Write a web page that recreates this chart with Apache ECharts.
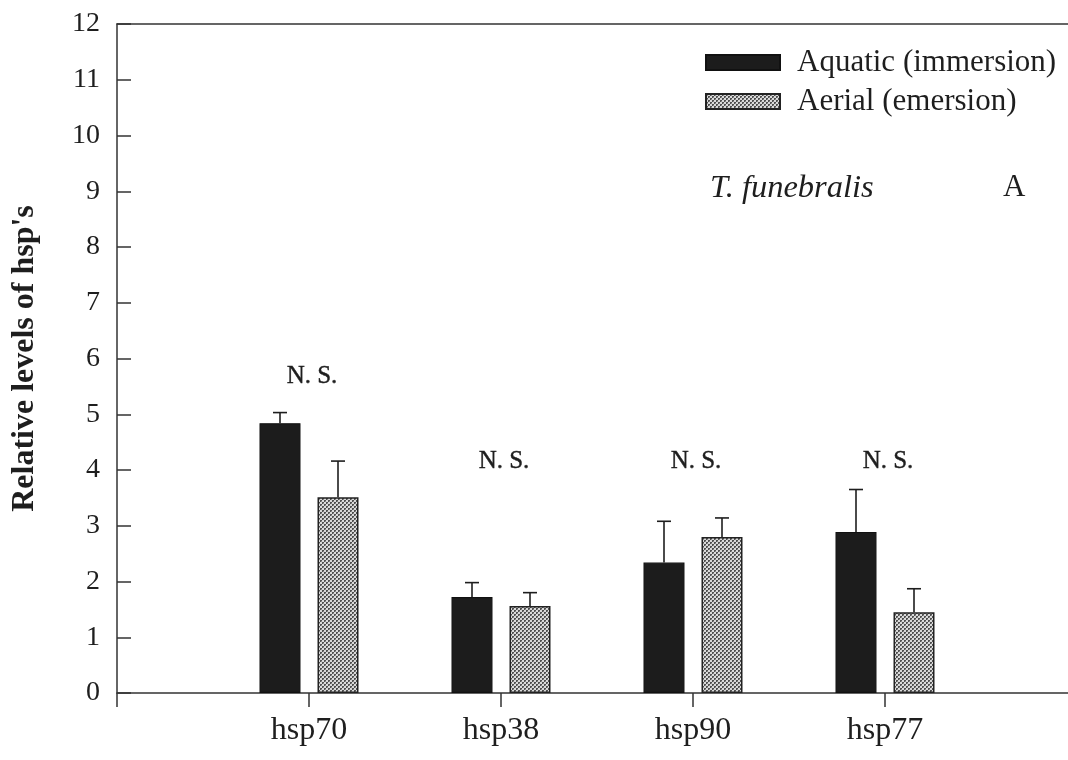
<!DOCTYPE html>
<html>
<head>
<meta charset="utf-8">
<script src="https://cdn.jsdelivr.net/npm/echarts@6/dist/echarts.min.js"></script>
<style>html,body{margin:0;padding:0;background:#fff;}#c{width:1068px;height:760px;}</style>
</head>
<body>
<div id="c"></div>
<script>
const categories = ['hsp70', 'hsp38', 'hsp90', 'hsp77'];
const aquatic = [4.84, 1.72, 2.34, 2.89];
const aquaticErr = [0.19, 0.26, 0.74, 0.76];
const aerial = [3.51, 1.56, 2.80, 1.45];
const aerialErr = [0.65, 0.24, 0.34, 0.42];
const nsText = ['N. S.', 'N. S.', 'N. S.', 'N. S.'];
const nsLevel = [5.67, 4.16, 4.16, 4.16];
const yTicks = [0, 12, 1];

const FONT = '"Liberation Serif", "Times New Roman", serif';
const INK = '#1e1e1e';

// dotted fill for aerial bars
const pat = document.createElement('canvas');
pat.width = 4; pat.height = 4;
const pc = pat.getContext('2d');
pc.fillStyle = '#d9d9d9'; pc.fillRect(0, 0, 4, 4);
pc.fillStyle = '#505050';
pc.fillRect(0, 0, 2, 2); pc.fillRect(2, 2, 2, 2);
pc.fillStyle = '#8e8e8e';
pc.fillRect(1, 1, 1, 1); pc.fillRect(3, 3, 1, 1);

const xs = categories.map((c, i) => i + 1);
const BW = 41, GAP = 17, OFF = (BW + GAP) / 2;
const GRID_LEFT = 117, UNIT_PX = 192;
const X_MAX = (1068 - GRID_LEFT) / UNIT_PX;

function errSeries(vals, errs, dx) {
  return {
    type: 'custom', z: 5, silent: true,
    data: xs.map((x, i) => [x, vals[i], errs[i]]),
    renderItem: function (params, api) {
      const x = api.value(0), y = api.value(1), e = api.value(2);
      const p0 = api.coord([x, y]);
      const p1 = api.coord([x, y + e]);
      const cx = p0[0] + dx;
      const st = { stroke: INK, lineWidth: 1.6 };
      return {
        type: 'group',
        children: [
          { type: 'line', shape: { x1: cx, y1: p0[1], x2: cx, y2: p1[1] }, style: st },
          { type: 'line', shape: { x1: cx - 7, y1: p1[1], x2: cx + 7, y2: p1[1] }, style: st }
        ]
      };
    }
  };
}

const axisLineStyle = { color: '#333', width: 1.5 };

const chart = echarts.init(document.getElementById('c'), null, { renderer: 'canvas' });
chart.setOption({
  backgroundColor: '#ffffff',
  animation: false,
  textStyle: { fontFamily: FONT, color: INK },
  grid: { left: GRID_LEFT, top: 24, right: 0, bottom: 67 },
  legend: {
    orient: 'vertical',
    left: 700, top: 42,
    itemWidth: 74, itemHeight: 15, itemGap: 8,
    icon: 'rect',
    textStyle: { fontFamily: FONT, fontSize: 31, color: INK, padding: [0, 0, 0, 12] },
    data: ['Aquatic (immersion)', 'Aerial (emersion)']
  },
  xAxis: [{
    type: 'value', min: 0, max: X_MAX, interval: 1,
    splitLine: { show: false },
    axisLine: { lineStyle: axisLineStyle },
    axisTick: { inside: false, length: 14, lineStyle: axisLineStyle },
    axisLabel: { margin: 22, fontFamily: FONT, fontSize: 32, color: INK, showMaxLabel: false,
      formatter: v => categories[Math.round(v) - 1] && Math.abs(v - Math.round(v)) < 1e-6 ? categories[Math.round(v) - 1] : '' }
  }, {
    type: 'value', position: 'top', min: 0, max: X_MAX,
    splitLine: { show: false },
    axisLine: { show: true, lineStyle: axisLineStyle },
    axisTick: { show: false }, axisLabel: { show: false }
  }],
  yAxis: {
    type: 'value', min: yTicks[0], max: yTicks[1], interval: yTicks[2],
    name: "Relative levels of hsp's",
    nameLocation: 'middle', nameGap: 76, nameRotate: 90,
    nameTextStyle: { fontFamily: FONT, fontSize: 32, fontWeight: 'bold', color: INK },
    splitLine: { show: false },
    axisLine: { lineStyle: axisLineStyle },
    axisTick: { inside: true, length: 14, lineStyle: axisLineStyle },
    axisLabel: { margin: 17, fontFamily: FONT, fontSize: 28, color: INK }
  },
  series: [
    {
      name: 'Aquatic (immersion)', type: 'bar',
      barWidth: BW, barGap: (GAP / BW * 100).toFixed(1) + '%',
      data: xs.map((x, i) => [x, aquatic[i]]),
      itemStyle: { color: '#1c1c1c', borderColor: '#111', borderWidth: 1.2 }
    },
    {
      name: 'Aerial (emersion)', type: 'bar',
      barWidth: BW,
      data: xs.map((x, i) => [x, aerial[i]]),
      itemStyle: { color: { image: pat, repeat: 'repeat' }, borderColor: '#222', borderWidth: 1.5 }
    },
    errSeries(aquatic, aquaticErr, -OFF),
    errSeries(aerial, aerialErr, OFF),
    {
      type: 'custom', silent: true, z: 6,
      data: xs.map((x, i) => [x, nsLevel[i]]),
      renderItem: function (params, api) {
        const p = api.coord([api.value(0), api.value(1)]);
        return {
          type: 'text', x: p[0] + 3, y: p[1],
          style: { text: nsText[params.dataIndex], font: '25px ' + FONT, fill: INK,
            stroke: INK, lineWidth: 0.4, align: 'center', verticalAlign: 'middle' }
        };
      }
    }
  ],
  graphic: [
    { type: 'text', left: 710, top: 172, style: { text: 'T. funebralis', font: 'italic 32.5px ' + FONT, fill: INK } },
    { type: 'text', left: 1003, top: 172, style: { text: 'A', font: '31px ' + FONT, fill: INK } }
  ]
});
</script>
</body>
</html>
